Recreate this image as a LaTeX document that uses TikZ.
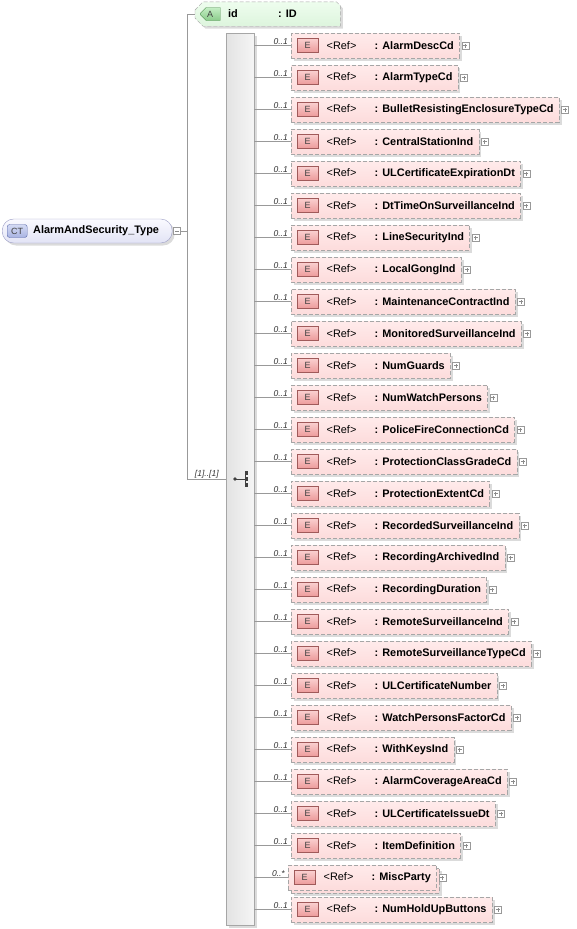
\documentclass[tikz,border=0pt]{standalone}
\usepackage{fontspec}
\setmainfont{Liberation Sans}
\usetikzlibrary{positioning,shapes.misc,shadows,calc,backgrounds}

\definecolor{lnclr}{HTML}{999999}
\definecolor{dashclr}{HTML}{A6A6A6}
\definecolor{cttop}{HTML}{FAFAFF}
\definecolor{ctbot}{HTML}{E2E3F5}
\definecolor{ctline}{HTML}{9C9EC6}
\definecolor{cticontop}{HTML}{D4DAF4}
\definecolor{cticonbot}{HTML}{A9B4E2}
\definecolor{cticonline}{HTML}{5A6AAA}
\definecolor{attop}{HTML}{EEFDEE}
\definecolor{atbot}{HTML}{DDF5DD}
\definecolor{aicontop}{HTML}{C4EEC4}
\definecolor{aiconbot}{HTML}{8ACB8A}
\definecolor{aiconline}{HTML}{4A8A4A}
\definecolor{eltop}{HTML}{FFEBEB}
\definecolor{elbot}{HTML}{FDDCDC}
\definecolor{eicontop}{HTML}{FAD0D0}
\definecolor{eiconbot}{HTML}{EC9A9A}
\definecolor{eiconline}{HTML}{A05A5A}

\begin{document}
\begin{tikzpicture}[x=1pt, y=-1pt,
  every node/.style={font=\fontsize{10.9}{12}\selectfont},
  conn/.style={draw=lnclr, line width=0.7pt},
  shd/.style={drop shadow={shadow xshift=2.5pt, shadow yshift=-2.5pt, fill=black, opacity=0.14}},
  elbox/.style={draw=dashclr, dash pattern=on 4pt off 2pt, top color=eltop, bottom color=elbot, minimum height=25pt, inner xsep=5.5pt, inner ysep=0pt, anchor=west, font=\fontsize{10.9}{12}\selectfont\bfseries},
  occo/.style={shd},
  occn/.style={xshift=-3pt, drop shadow={shadow xshift=5.5pt, shadow yshift=-5.5pt, fill=black, opacity=0.14}, copy shadow={shadow xshift=3pt, shadow yshift=-3pt, draw=dashclr, fill=elbot, dash pattern=on 4pt off 2pt}},
  eicon/.style={draw=eiconline, top color=eicontop, bottom color=eiconbot, minimum width=21pt, minimum height=14pt, inner sep=0pt, text=black!75, font=\fontsize{9}{10}\selectfont},
  plusbox/.style={draw=lnclr, fill=white, minimum size=7pt, inner sep=0pt, path picture={\draw[black!45] ([xshift=1.5pt]path picture bounding box.west) -- ([xshift=-1.5pt]path picture bounding box.east) ([yshift=1.5pt]path picture bounding box.south) -- ([yshift=-1.5pt]path picture bounding box.north);}},
  minusbox/.style={draw=lnclr, fill=white, minimum size=7pt, inner sep=0pt, path picture={\draw[black!45] ([xshift=1.5pt]path picture bounding box.west) -- ([xshift=-1.5pt]path picture bounding box.east);}},
  mult/.style={inner sep=1pt, text=black!80, font=\fontsize{8.5}{9}\selectfont\itshape},
  ctbox/.style={draw=ctline, top color=cttop, bottom color=ctbot, rounded corners=11.5pt, minimum height=24pt, inner xsep=6pt, inner ysep=0pt, anchor=west, shd, font=\fontsize{10.9}{12}\selectfont\bfseries},
  cticon/.style={draw=cticonline, top color=cticontop, bottom color=cticonbot, rounded corners=2.5pt, minimum width=20pt, minimum height=13pt, inner sep=0pt, text=black!75, font=\fontsize{9}{10}\selectfont},
  attbox/.style={minimum height=24pt, inner xsep=6pt, inner ysep=0pt, anchor=west, font=\fontsize{10.9}{12}\selectfont\bfseries},
  attline/.style={draw=dashclr, dash pattern=on 4pt off 2pt, top color=attop, bottom color=atbot, shd},
  aicon/.style={chamfered rectangle, chamfered rectangle corners={north west, south west}, chamfered rectangle xsep=3pt, draw=aiconline, top color=aicontop, bottom color=aiconbot, minimum width=20pt, minimum height=13pt, inner sep=0pt, text=black!75, font=\fontsize{9}{10}\selectfont},
  seqbar/.style={draw=dashclr, left color=black!11, right color=black!4, minimum width=28pt, minimum height=892pt, inner sep=0pt, shd}]

\useasboundingbox (0,0) rectangle (576,929);

% complex type
\node[ctbox] (ct) at (2,231) {\hspace*{25pt}\makebox[133pt][l]{AlarmAndSecurity\_Type}};
\node[cticon, right=5pt of ct.west] (cti) {CT};
\node[minusbox, right=1pt of ct.east] (ctm) {};
\coordinate[right=7pt of ctm.east] (jn);

% attribute
\node[attbox] (att) at (195,14) {\hspace*{27pt}\makebox[50pt][l]{id}\makebox[56pt][l]{: ID}};
\begin{scope}[on background layer]
\path[attline] ([yshift=4pt]att.west) -- ([xshift=8pt]att.north west) -- ([xshift=-4pt]att.north east)
  -- ([yshift=-4pt]att.north east) -- (att.south east) -- ([xshift=8pt]att.south west) -- ([yshift=-4pt]att.west) -- cycle;
\end{scope}
\node[aicon, right=5pt of att.west] (atti) {A};

% sequence
\node[seqbar] (seq) at (240,479) {};
\fill[black!75] ($(seq.center)+(-5,0)$) circle (1.8);
\draw[black!75, line width=0.8pt] ($(seq.center)+(-5,0)$) -- ($(seq.center)+(5,0)$)
  ($(seq.center)+(5,-6)$) -- ($(seq.center)+(5,6)$)
  ($(seq.center)+(5,-6)$) -- ($(seq.center)+(7,-6)$)
  ($(seq.center)+(5,6)$) -- ($(seq.center)+(7,6)$);
\foreach \dy in {-6,0,6}
  \fill[black!75] ($(seq.center)+(6.5,\dy)+(-1.6,-1.6)$) rectangle ($(seq.center)+(6.5,\dy)+(1.6,1.6)$);

\draw[conn] (ctm.east) -- (jn);
\draw[conn] (att.west) -| (jn) |- (seq.west);
\node[mult, anchor=south] (sm) at ($(jn |- seq.west)!0.5!(seq.west)$) {[1]..[1]};

% elements
\foreach \nm/\mu/\k [count=\i] in {AlarmDescCd/1/o, AlarmTypeCd/1/o, BulletResistingEnclosureTypeCd/1/o,
    CentralStationInd/1/o, ULCertificateExpirationDt/1/o, DtTimeOnSurveillanceInd/1/o, LineSecurityInd/1/o,
    LocalGongInd/1/o, MaintenanceContractInd/1/o, MonitoredSurveillanceInd/1/o, NumGuards/1/o,
    NumWatchPersons/1/o, PoliceFireConnectionCd/1/o, ProtectionClassGradeCd/1/o, ProtectionExtentCd/1/o,
    RecordedSurveillanceInd/1/o, RecordingArchivedInd/1/o, RecordingDuration/1/o, RemoteSurveillanceInd/1/o,
    RemoteSurveillanceTypeCd/1/o, ULCertificateNumber/1/o, WatchPersonsFactorCd/1/o, WithKeysInd/1/o,
    AlarmCoverageAreaCd/1/o, ULCertificateIssueDt/1/o, ItemDefinition/1/o, MiscParty/*/n, NumHoldUpButtons/1/o} {
  \tikzset{thisocc/.style/.expanded={occ\k}}
  \node[elbox, thisocc] (e\i) at (291, 13.5+32*\i) {\hspace*{30pt}\makebox[48pt][l]{\mdseries <Ref>}: \nm};
  \node[eicon, right=6pt of e\i.west] (i\i) {E};
  \node[plusbox, right=2pt of e\i.east] (p\i) {};
  \node[mult, above left=0pt and 2pt of e\i.west] (m\i) {0..\mu};
  \draw[conn] (seq.east |- e\i.west) -- (e\i.west);
}
\end{tikzpicture}
\end{document}
